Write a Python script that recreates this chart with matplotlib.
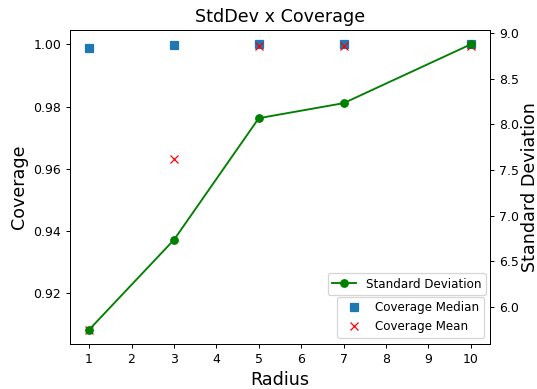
import matplotlib
matplotlib.use("Agg")
import matplotlib.pyplot as plt

radius = [1, 3, 5, 7, 10]
coverage_median = [0.9987, 0.9997, 1.0, 1.0, 1.0]
coverage_mean = [0.9083, 0.9631, 0.9994, 0.9994, 0.9994]
std_dev = [5.748, 6.734, 8.069, 8.234, 8.88]

fig, ax = plt.subplots(figsize=(537 / 90, 389 / 90), dpi=90)
fig.subplots_adjust(left=70 / 537, right=490 / 537, bottom=45 / 389, top=359 / 389)

ax.plot(radius, coverage_median, "s", color="C0", label="Coverage Median")
ax.plot(radius, coverage_mean, "rx", label="Coverage Mean")
ax.set_xlabel("Radius", fontsize=14)
ax.set_ylabel("Coverage", fontsize=14)
ax.set_xticks(range(1, 11))
ax.set_title("StdDev x Coverage", fontsize=14)

ax2 = ax.twinx()
ax2.plot(radius, std_dev, "go-", label="Standard Deviation")
ax2.set_ylabel("Standard Deviation", fontsize=14, labelpad=2)

ax2.legend(loc="lower right", bbox_to_anchor=(0.99, 0.155), borderaxespad=0, fontsize=9.5)
ax.legend(loc="lower right", fontsize=9.5)

plt.savefig("out.png", dpi=90)
